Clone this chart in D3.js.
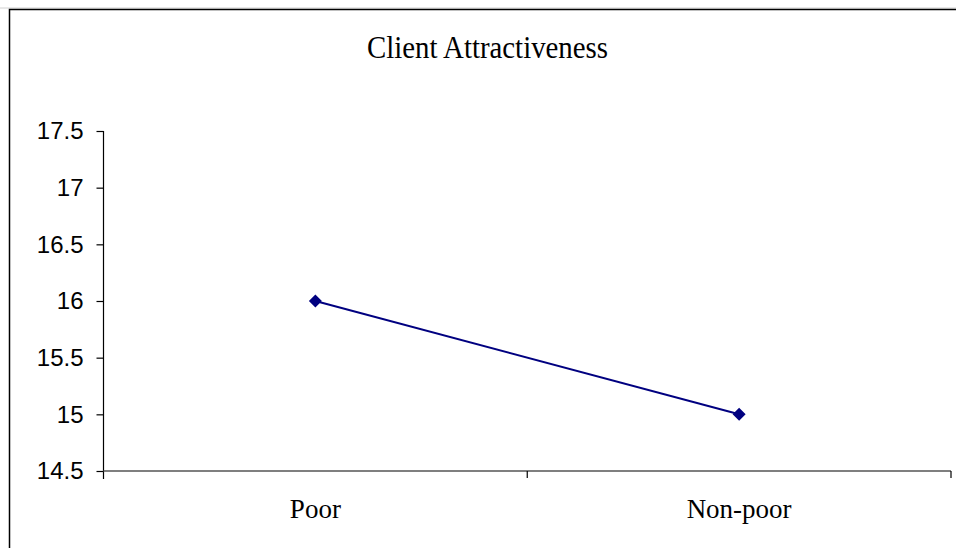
<!DOCTYPE html>
<html>
<head>
<meta charset="utf-8">
<script src="https://cdn.jsdelivr.net/npm/d3@7"></script>
<style>
  html, body { margin: 0; padding: 0; background: #fff; }
  svg { display: block; }
</style>
</head>
<body>
<svg id="chart" width="956" height="548"></svg>
<script>
// Chart data
const categories = ["Poor", "Non-poor"];
const values = [16, 15];
const yTicks = [14.5, 15, 15.5, 16, 16.5, 17, 17.5];
const title = "Client Attractiveness";

const W = 956, H = 548;
const plot = { left: 103.5, right: 951, top: 131, bottom: 471 };

const svg = d3.select("#chart");

// Outer frame (top and left edges)
svg.append("line").attr("x1", 0).attr("x2", W).attr("y1", 8).attr("y2", 8)
  .attr("stroke", "#d0d0d0").attr("stroke-width", 1);
svg.append("path")
  .attr("d", `M9.5,${H} V9.5 H${W}`)
  .attr("fill", "none").attr("stroke", "#000").attr("stroke-width", 1.5);

const x = d3.scalePoint().domain(categories).range([plot.left, plot.right]).padding(0.5);
const xBand = d3.scaleBand().domain(categories).range([plot.left, plot.right]);
const y = d3.scaleLinear().domain([14.5, 17.5]).range([plot.bottom, plot.top]);

// Title
svg.append("text")
  .attr("x", 487.5).attr("y", 58)
  .attr("text-anchor", "middle")
  .attr("font-family", "'Liberation Serif', 'Times New Roman', serif")
  .attr("font-size", 31)
  .attr("textLength", 241).attr("lengthAdjust", "spacingAndGlyphs")
  .text(title);

// Y axis
const yAxis = svg.append("g")
  .attr("transform", `translate(${plot.left},0)`)
  .call(d3.axisLeft(y).tickValues(yTicks).tickSize(7).tickPadding(13).tickFormat(d3.format("")));
yAxis.select(".domain").attr("stroke", "#000").attr("stroke-width", 1.2)
  .attr("d", `M0,${plot.top}V${plot.bottom + 8}`);
yAxis.selectAll(".tick line").attr("stroke", "#000").attr("stroke-width", 1.2);
yAxis.selectAll(".tick text")
  .attr("font-family", "'Liberation Sans', Arial, sans-serif")
  .attr("font-size", 24).attr("fill", "#000");

// X axis
const xAxis = svg.append("g")
  .attr("transform", `translate(0,${plot.bottom})`);
xAxis.append("line")
  .attr("x1", plot.left).attr("x2", plot.right)
  .attr("stroke", "#555").attr("stroke-width", 1.5);
const xTickPos = [...categories.slice(1).map(c => xBand(c)), plot.right];
xAxis.selectAll("line.tk").data(xTickPos).join("line")
  .attr("class", "tk")
  .attr("x1", d => d).attr("x2", d => d)
  .attr("y1", 0).attr("y2", 7)
  .attr("stroke", "#000").attr("stroke-width", 1.2);
xAxis.selectAll("text").data(categories).join("text")
  .attr("x", d => x(d)).attr("y", 47)
  .attr("text-anchor", "middle")
  .attr("font-family", "'Liberation Serif', 'Times New Roman', serif")
  .attr("font-size", 27).attr("fill", "#000")
  .text(d => d);

// Series line
const pts = categories.map((c, i) => [x(c), y(values[i])]);
svg.append("path")
  .attr("d", d3.line()(pts))
  .attr("fill", "none").attr("stroke", "#000080").attr("stroke-width", 2);

// Diamond markers
svg.selectAll("path.mk").data(pts).join("path")
  .attr("class", "mk")
  .attr("transform", d => `translate(${d[0]},${d[1]})`)
  .attr("d", "M0,-6.5L6.5,0L0,6.5L-6.5,0Z")
  .attr("fill", "#000080");
</script>
</body>
</html>
